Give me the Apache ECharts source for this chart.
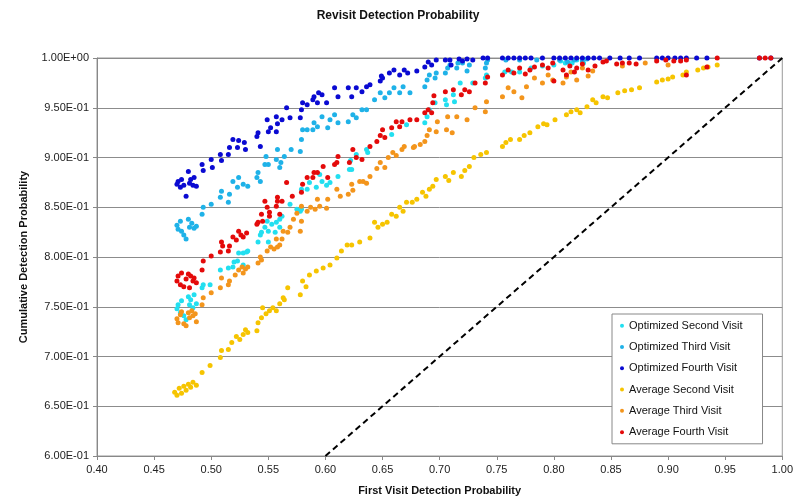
<!DOCTYPE html>
<html>
<head>
<meta charset="utf-8">
<script src="https://cdn.jsdelivr.net/npm/echarts@6/dist/echarts.min.js"></script>
<style>html,body{margin:0;padding:0;background:#fff;}#c{width:796px;height:501px;}</style>
</head>
<body>
<div id="c"></div>
<script>
var seriesNames = ['Optimized Second Visit','Optimized Third Visit','Optimized Fourth Visit','Average Second Visit','Average Third Visit','Average Fourth Visit'];
var xTickLabels = ['0.40','0.45','0.50','0.55','0.60','0.65','0.70','0.75','0.80','0.85','0.90','0.95','1.00'];
var yTickLabels = ['6.00E-01','6.50E-01','7.00E-01','7.50E-01','8.00E-01','8.50E-01','9.00E-01','9.50E-01','1.00E+00'];
var diagLine = [[0.6,0.6],[1.0,1.0]];

var optSecond = [[0.470,0.748],[0.471,0.752],[0.473,0.744],[0.474,0.756],[0.476,0.741],[0.478,0.737],[0.480,0.760],[0.481,0.752],[0.482,0.757],[0.484,0.749],[0.485,0.762],[0.487,0.753],
[0.492,0.769],[0.493,0.772],[0.499,0.772],[0.508,0.787],[0.515,0.789],[0.519,0.790],[0.520,0.795],[0.523,0.796],[0.524,0.804],[0.528,0.804],[0.528,0.792],[0.531,0.805],[0.532,0.806],[0.541,0.815],[0.543,0.822],[0.544,0.825],[0.547,0.830],[0.549,0.836],[0.550,0.815],[0.550,0.826],[0.553,0.833],[0.556,0.825],[0.557,0.835],[0.560,0.838],[0.560,0.830],[0.562,0.841],[0.569,0.853],[0.575,0.848],[0.578,0.846],[0.579,0.848],[0.579,0.868],[0.584,0.868],[0.586,0.875],[0.592,0.870],[0.595,0.883],[0.597,0.876],[0.601,0.872],[0.604,0.875],[0.611,0.881],[0.621,0.888],[0.622,0.897],[0.623,0.888],[0.627,0.903],[0.636,0.908],[0.637,0.905],[0.658,0.923],[0.671,0.933],[0.687,0.935],[0.689,0.941],[0.691,0.948],[0.696,0.955],[0.705,0.958],[0.706,0.953],[0.712,0.963],[0.713,0.956],[0.718,0.975],[0.729,0.975],[0.740,0.980],[0.741,0.983],[0.757,0.986],[0.763,0.986],[0.770,0.986],[0.780,0.990],[0.790,0.992],[0.800,0.993],[0.806,0.997],[0.810,0.995],[0.816,0.995],[0.820,0.998],[0.826,0.995]];

var optThird = [[0.470,0.832],[0.471,0.828],[0.473,0.836],[0.474,0.826],[0.476,0.822],[0.478,0.818],[0.480,0.838],[0.481,0.830],[0.483,0.834],[0.485,0.829],[0.487,0.831],
[0.492,0.843],[0.493,0.850],[0.500,0.853],[0.508,0.860],[0.509,0.866],[0.515,0.855],[0.516,0.863],[0.519,0.876],[0.523,0.870],[0.524,0.880],[0.528,0.873],[0.532,0.871],[0.540,0.880],[0.541,0.885],[0.543,0.876],[0.547,0.893],[0.548,0.901],[0.550,0.893],[0.557,0.898],[0.558,0.908],[0.560,0.890],[0.561,0.895],[0.564,0.901],[0.570,0.908],[0.578,0.906],[0.579,0.918],[0.580,0.928],[0.584,0.928],[0.589,0.928],[0.590,0.935],[0.593,0.931],[0.597,0.941],[0.602,0.930],[0.604,0.938],[0.608,0.943],[0.611,0.935],[0.620,0.936],[0.624,0.943],[0.627,0.940],[0.632,0.948],[0.636,0.948],[0.643,0.958],[0.648,0.965],[0.652,0.960],[0.656,0.965],[0.660,0.970],[0.665,0.965],[0.668,0.971],[0.674,0.965],[0.687,0.971],[0.689,0.978],[0.691,0.983],[0.696,0.980],[0.697,0.985],[0.705,0.985],[0.707,0.990],[0.709,0.993],[0.715,0.990],[0.716,0.995],[0.720,0.995],[0.724,0.987],[0.726,0.993],[0.740,0.990],[0.741,0.995],[0.742,0.998],[0.758,0.998],[0.770,0.998],[0.785,0.998],[0.805,0.998],[0.812,0.996],[0.818,0.998],[0.825,0.997],[0.829,0.999]];

var optFourth = [[0.470,0.873],[0.471,0.876],[0.473,0.870],[0.474,0.878],[0.476,0.872],[0.478,0.861],[0.480,0.886],[0.481,0.874],[0.482,0.878],[0.484,0.872],[0.485,0.880],[0.487,0.871],
[0.492,0.893],[0.493,0.887],[0.500,0.898],[0.501,0.890],[0.508,0.903],[0.509,0.897],[0.515,0.903],[0.516,0.910],[0.519,0.918],[0.523,0.910],[0.524,0.917],[0.529,0.915],[0.530,0.908],[0.540,0.921],[0.541,0.925],[0.543,0.911],[0.549,0.938],[0.550,0.926],[0.552,0.930],[0.557,0.926],[0.557,0.941],[0.558,0.934],[0.562,0.938],[0.566,0.950],[0.569,0.940],[0.578,0.940],[0.579,0.948],[0.580,0.955],[0.584,0.953],[0.589,0.958],[0.590,0.961],[0.593,0.955],[0.594,0.965],[0.597,0.963],[0.601,0.955],[0.608,0.970],[0.611,0.961],[0.620,0.970],[0.623,0.961],[0.627,0.970],[0.632,0.966],[0.636,0.971],[0.639,0.973],[0.648,0.977],[0.649,0.982],[0.650,0.980],[0.656,0.985],[0.660,0.988],[0.665,0.983],[0.669,0.988],[0.672,0.985],[0.680,0.987],[0.687,0.991],[0.690,0.996],[0.693,0.993],[0.697,0.998],[0.705,0.998],[0.709,0.998],[0.710,0.993],[0.717,0.999],[0.720,0.997],[0.724,0.999],[0.729,0.998],[0.738,1.0],[0.742,1.0],[0.755,1.0],[0.760,1.0],[0.765,1.0],[0.770,1.0],[0.775,1.0],[0.780,1.0],[0.790,1.0],[0.800,1.0],[0.805,1.0],[0.810,1.0],[0.815,1.0],[0.820,1.0],[0.825,1.0],[0.830,1.0],[0.835,1.0],[0.840,1.0],[0.849,1.0],[0.858,1.0],[0.866,1.0],[0.875,1.0],[0.890,1.0],[0.895,1.0],[0.900,1.0],[0.906,1.0],[0.911,1.0],[0.916,1.0],[0.925,1.0],[0.934,1.0],[0.980,1.0],[0.990,1.0]];

var avgSecond = [[0.468,0.664],[0.470,0.661],[0.472,0.668],[0.474,0.663],[0.476,0.670],[0.478,0.666],[0.480,0.672],[0.482,0.669],[0.484,0.674],[0.487,0.671],[0.492,0.684],[0.499,0.691],[0.508,0.699],[0.509,0.706],[0.515,0.707],[0.518,0.714],[0.522,0.720],[0.525,0.717],[0.528,0.722],[0.530,0.727],[0.532,0.724],[0.540,0.726],[0.541,0.734],[0.544,0.739],[0.545,0.749],[0.548,0.743],[0.551,0.746],[0.554,0.749],[0.557,0.746],[0.560,0.753],[0.563,0.759],[0.564,0.757],[0.567,0.769],[0.578,0.762],[0.580,0.776],[0.583,0.770],[0.586,0.782],[0.592,0.786],[0.598,0.789],[0.604,0.792],[0.610,0.799],[0.614,0.806],[0.619,0.812],[0.623,0.812],[0.630,0.815],[0.639,0.819],[0.643,0.835],[0.646,0.830],[0.650,0.833],[0.654,0.835],[0.658,0.843],[0.662,0.841],[0.665,0.850],[0.668,0.846],[0.671,0.855],[0.676,0.855],[0.680,0.858],[0.685,0.865],[0.688,0.861],[0.691,0.868],[0.694,0.871],[0.697,0.878],[0.705,0.881],[0.708,0.877],[0.712,0.885],[0.719,0.881],[0.722,0.887],[0.726,0.891],[0.730,0.900],[0.736,0.903],[0.741,0.905],[0.755,0.911],[0.758,0.915],[0.762,0.918],[0.770,0.918],[0.774,0.922],[0.779,0.925],[0.786,0.931],[0.791,0.934],[0.794,0.933],[0.801,0.938],[0.811,0.943],[0.815,0.946],[0.820,0.948],[0.823,0.945],[0.829,0.951],[0.834,0.958],[0.837,0.955],[0.843,0.961],[0.847,0.960],[0.856,0.965],[0.862,0.967],[0.868,0.968],[0.875,0.970],[0.890,0.976],[0.895,0.978],[0.900,0.979],[0.904,0.981],[0.913,0.983],[0.916,0.986],[0.926,0.988],[0.931,0.990],[0.935,0.991],[0.943,0.993]];

var avgThird = [[0.470,0.738],[0.471,0.734],[0.473,0.742],[0.474,0.745],[0.476,0.733],[0.478,0.731],[0.480,0.744],[0.481,0.739],[0.483,0.746],[0.484,0.741],[0.486,0.743],[0.487,0.735],
[0.492,0.752],[0.493,0.759],[0.500,0.764],[0.508,0.769],[0.509,0.779],[0.515,0.772],[0.516,0.776],[0.521,0.782],[0.524,0.787],[0.527,0.790],[0.528,0.784],[0.530,0.788],[0.532,0.790],[0.541,0.794],[0.543,0.800],[0.544,0.797],[0.549,0.806],[0.552,0.810],[0.555,0.808],[0.557,0.818],[0.558,0.810],[0.560,0.812],[0.562,0.818],[0.563,0.826],[0.567,0.825],[0.569,0.830],[0.572,0.838],[0.575,0.844],[0.578,0.826],[0.579,0.836],[0.579,0.851],[0.584,0.846],[0.587,0.850],[0.591,0.848],[0.593,0.858],[0.595,0.851],[0.601,0.849],[0.602,0.858],[0.610,0.868],[0.613,0.861],[0.620,0.863],[0.623,0.873],[0.624,0.867],[0.630,0.876],[0.633,0.876],[0.636,0.874],[0.639,0.881],[0.645,0.889],[0.648,0.895],[0.652,0.890],[0.655,0.900],[0.659,0.905],[0.662,0.902],[0.667,0.908],[0.669,0.911],[0.677,0.910],[0.678,0.911],[0.683,0.913],[0.687,0.916],[0.689,0.922],[0.691,0.928],[0.697,0.926],[0.698,0.936],[0.706,0.928],[0.707,0.941],[0.711,0.925],[0.715,0.941],[0.724,0.938],[0.731,0.950],[0.740,0.946],[0.741,0.956],[0.755,0.961],[0.760,0.970],[0.765,0.966],[0.772,0.960],[0.776,0.971],[0.783,0.980],[0.790,0.975],[0.795,0.983],[0.799,0.978],[0.808,0.975],[0.811,0.981],[0.815,0.986],[0.820,0.978],[0.825,0.990],[0.830,0.982],[0.834,0.987],[0.860,0.992],[0.880,0.995],[0.900,0.993]];

var avgFourth = [[0.470,0.776],[0.471,0.781],[0.473,0.772],[0.474,0.784],[0.476,0.770],[0.478,0.778],[0.480,0.783],[0.481,0.769],[0.482,0.781],[0.484,0.776],[0.485,0.779],[0.487,0.774],
[0.492,0.787],[0.493,0.796],[0.500,0.801],[0.508,0.805],[0.509,0.815],[0.510,0.811],[0.515,0.806],[0.516,0.811],[0.519,0.820],[0.522,0.817],[0.524,0.826],[0.526,0.822],[0.528,0.820],[0.531,0.824],[0.540,0.833],[0.541,0.835],[0.544,0.843],[0.545,0.836],[0.547,0.856],[0.549,0.850],[0.551,0.845],[0.551,0.841],[0.557,0.851],[0.558,0.856],[0.558,0.860],[0.560,0.843],[0.562,0.856],[0.566,0.875],[0.571,0.861],[0.579,0.865],[0.580,0.873],[0.584,0.880],[0.589,0.880],[0.590,0.885],[0.593,0.885],[0.598,0.891],[0.602,0.880],[0.608,0.893],[0.610,0.895],[0.611,0.901],[0.621,0.895],[0.624,0.908],[0.627,0.900],[0.632,0.898],[0.639,0.911],[0.645,0.916],[0.648,0.922],[0.650,0.928],[0.652,0.920],[0.658,0.930],[0.662,0.936],[0.665,0.931],[0.667,0.936],[0.674,0.938],[0.680,0.938],[0.687,0.945],[0.690,0.948],[0.693,0.945],[0.694,0.955],[0.695,0.962],[0.705,0.966],[0.712,0.968],[0.719,0.963],[0.722,0.968],[0.726,0.966],[0.731,0.975],[0.740,0.975],[0.742,0.981],[0.755,0.983],[0.760,0.988],[0.765,0.985],[0.770,0.990],[0.775,0.984],[0.779,0.988],[0.783,0.991],[0.790,0.993],[0.795,0.990],[0.799,0.995],[0.800,0.977],[0.808,0.988],[0.811,0.983],[0.814,0.992],[0.818,0.986],[0.820,0.990],[0.825,0.994],[0.830,0.988],[0.836,0.992],[0.843,0.996],[0.846,0.997],[0.855,0.994],[0.860,0.995],[0.866,0.995],[0.872,0.994],[0.890,0.997],[0.898,0.998],[0.905,0.997],[0.911,0.997],[0.916,0.983],[0.916,0.998],[0.934,0.991],[0.943,1.0],[0.980,1.0],[0.985,1.0],[0.990,1.0]];

var seriesData = [optSecond, optThird, optFourth, avgSecond, avgThird, avgFourth];
var seriesColors = ['#22dff0','#1fb2e8','#0a0ad2','#f6c400','#f3951c','#e40a0a'];

var chart = echarts.init(document.getElementById('c'), null, {renderer:'canvas'});
var font = 'Arial, "Liberation Sans", sans-serif';

var series = seriesNames.map(function(n,i){
  return {
    name: n, type: 'scatter', data: seriesData[i], symbol: 'circle', symbolSize: 5,
    itemStyle: {color: seriesColors[i], opacity: 1}, emphasis: {disabled: true}, z: 3 + i
  };
});
series.push({
  name: 'diag', type: 'line', data: diagLine, symbol: 'none', z: 10,
  lineStyle: {color: '#000', width: 2, type: [6,4]}, silent: true
});

chart.setOption({
  animation: false,
  backgroundColor: '#fff',
  title: {
    text: 'Revisit Detection Probability', left: 'center', top: 5,
    textStyle: {fontFamily: font, fontSize: 12, fontWeight: 'bold', color: '#111'}
  },
  grid: {left: 97, right: 13, top: 58, bottom: 42, show: true, borderColor: '#999', borderWidth: 1, backgroundColor: '#fff'},
  legend: {
    data: seriesNames.map(function(n){return {name:n, icon:'circle'};}),
    orient: 'vertical', left: 612, top: 314,
    itemWidth: 4, itemHeight: 4, itemGap: 8,
    padding: [5, 20, 5, 8],
    backgroundColor: '#fff', borderColor: '#888', borderWidth: 1,
    textStyle: {fontFamily: font, fontSize: 11, color: '#111', lineHeight: 13.3}
  },
  xAxis: {
    type: 'value', min: 0.4, max: 1.0, interval: 0.05,
    name: 'First Visit Detection Probability', nameLocation: 'middle', nameGap: 29,
    nameTextStyle: {fontFamily: font, fontSize: 11, fontWeight: 'bold', color: '#111'},
    axisLine: {lineStyle: {color: '#888'}},
    axisTick: {show: true, length: 4, lineStyle: {color: '#888'}},
    axisLabel: {fontFamily: font, fontSize: 11, color: '#222', margin: 8,
      formatter: function(v){ return xTickLabels[Math.round((v-0.4)/0.05)]; }},
    splitLine: {show: false}
  },
  yAxis: {
    type: 'value', min: 0.6, max: 1.0, interval: 0.05,
    name: 'Cumulative Detection Probability', nameLocation: 'middle', nameGap: 68, nameRotate: 90,
    nameTextStyle: {fontFamily: font, fontSize: 11, fontWeight: 'bold', color: '#111'},
    axisLine: {show: true, lineStyle: {color: '#888'}},
    axisTick: {show: true, length: 4, lineStyle: {color: '#888'}},
    axisLabel: {fontFamily: font, fontSize: 11, color: '#222', margin: 8,
      formatter: function(v){ return yTickLabels[Math.round((v-0.6)/0.05)]; }},
    splitLine: {show: true, lineStyle: {color: '#8c8c8c', width: 1}}
  },
  series: series
});
</script>
</body>
</html>
